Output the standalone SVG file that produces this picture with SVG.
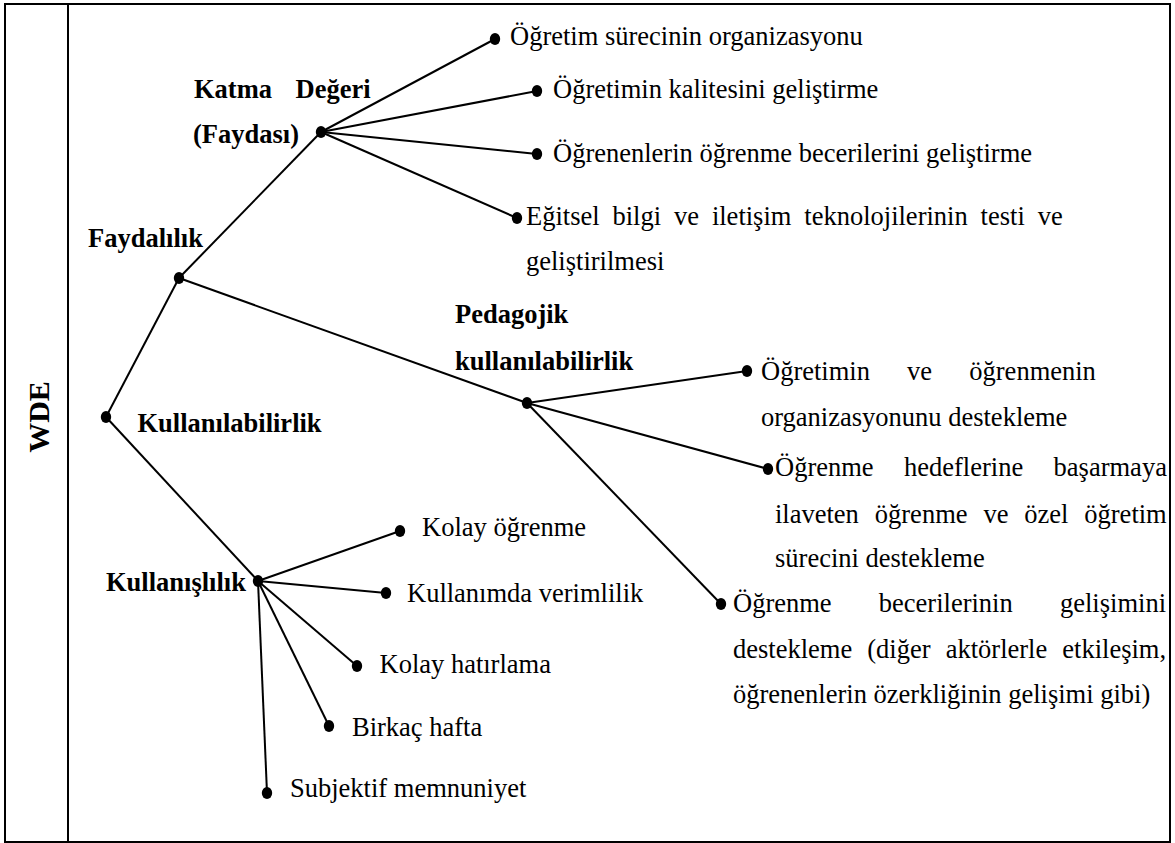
<svg xmlns="http://www.w3.org/2000/svg" width="1175" height="843" viewBox="0 0 1175 843">
<style>
text{font-family:"Liberation Serif","Times New Roman",serif;font-size:26.5px;fill:#000}
.b{font-weight:bold}
.ln{stroke:#000;stroke-width:2;fill:none}
.dot{fill:#000}
.frame{stroke:#000;stroke-width:2;fill:none}
</style>
<defs>
<ellipse id="d" cx="0" cy="0" rx="5.2" ry="6"/>
</defs>
<rect width="1175" height="843" fill="#fff"/>
<g id="frame">
<rect class="frame" x="5" y="4" width="1165" height="838"/>
<line class="frame" x1="68" y1="4" x2="68" y2="842"/>
</g>
<g id="connectors">
<line class="ln" x1="106" y1="417" x2="179" y2="278"/>
<line class="ln" x1="106" y1="417" x2="258" y2="581"/>
<line class="ln" x1="179" y1="278" x2="321" y2="132"/>
<line class="ln" x1="179" y1="278" x2="527" y2="403"/>
<line class="ln" x1="321" y1="132" x2="495" y2="39"/>
<line class="ln" x1="321" y1="132" x2="537" y2="91"/>
<line class="ln" x1="321" y1="132" x2="537" y2="154"/>
<line class="ln" x1="321" y1="132" x2="517" y2="218"/>
<line class="ln" x1="527" y1="403" x2="747" y2="371"/>
<line class="ln" x1="527" y1="403" x2="768" y2="469"/>
<line class="ln" x1="527" y1="403" x2="721" y2="604"/>
<line class="ln" x1="258" y1="581" x2="400" y2="531"/>
<line class="ln" x1="258" y1="581" x2="386" y2="593"/>
<line class="ln" x1="258" y1="581" x2="357" y2="666"/>
<line class="ln" x1="258" y1="581" x2="329" y2="726"/>
<line class="ln" x1="258" y1="581" x2="267" y2="793"/>
</g>
<g id="wde">
<text class="b" style="font-size:30px" text-anchor="middle" transform="translate(49,417) rotate(-90)">WDE</text>
<use href="#d" class="dot" x="106" y="417"/>
</g>
<g id="faydalilik">
<use href="#d" class="dot" x="179" y="278"/>
<text class="b" x="88" y="247">Faydalılık</text>
</g>
<g id="katma-degeri">
<use href="#d" class="dot" x="321" y="132"/>
<text class="b" y="98"><tspan x="194">Katma</tspan><tspan x="295.5">Değeri</tspan></text>
<text class="b" x="193" y="143">(Faydası)</text>
</g>
<g id="leaf-ogretim-sureci">
<use href="#d" class="dot" x="495" y="39"/>
<text x="510" y="45">Öğretim sürecinin organizasyonu</text>
</g>
<g id="leaf-kalite">
<use href="#d" class="dot" x="537" y="91"/>
<text x="553" y="98">Öğretimin kalitesini geliştirme</text>
</g>
<g id="leaf-beceri">
<use href="#d" class="dot" x="537" y="154"/>
<text x="553" y="162">Öğrenenlerin öğrenme becerilerini geliştirme</text>
</g>
<g id="leaf-egitsel">
<use href="#d" class="dot" x="517" y="218"/>
<text y="225"><tspan x="526">Eğitsel</tspan><tspan x="612.5">bilgi</tspan><tspan x="674">ve</tspan><tspan x="711.9">iletişim</tspan><tspan x="804.3">teknolojilerinin</tspan><tspan x="980.6">testi</tspan><tspan x="1037.7">ve</tspan></text>
<text x="526" y="270">geliştirilmesi</text>
</g>
<g id="kullanilabilirlik">
<text class="b" x="137.5" y="432">Kullanılabilirlik</text>
</g>
<g id="pedagojik">
<use href="#d" class="dot" x="527" y="403"/>
<text class="b" x="455" y="323">Pedagojik</text>
<text class="b" x="455" y="370">kullanılabilirlik</text>
</g>
<g id="leaf-organizasyon">
<use href="#d" class="dot" x="747" y="371"/>
<text y="380"><tspan x="761">Öğretimin</tspan><tspan x="907.1">ve</tspan><tspan x="969.3">öğrenmenin</tspan></text>
<text x="761" y="426">organizasyonunu destekleme</text>
</g>
<g id="leaf-hedef">
<use href="#d" class="dot" x="768" y="469"/>
<text y="476"><tspan x="775">Öğrenme</tspan><tspan x="904">hedeflerine</tspan><tspan x="1053.6">başarmaya</tspan></text>
<text y="523"><tspan x="775">ilaveten</tspan><tspan x="874.8">öğrenme</tspan><tspan x="983.4">ve</tspan><tspan x="1024.3">özel</tspan><tspan x="1084.3">öğretim</tspan></text>
<text x="775" y="567">sürecini destekleme</text>
</g>
<g id="leaf-gelisim">
<use href="#d" class="dot" x="721" y="604"/>
<text y="612"><tspan x="733">Öğrenme</tspan><tspan x="878.8">becerilerinin</tspan><tspan x="1060">gelişimini</tspan></text>
<text y="658"><tspan x="733">destekleme</tspan><tspan x="867.3">(diğer</tspan><tspan x="945.7">aktörlerle</tspan><tspan x="1062.3">etkileşim,</tspan></text>
<text x="733" y="703">öğrenenlerin özerkliğinin gelişimi gibi)</text>
</g>
<g id="kullanislilik">
<use href="#d" class="dot" x="258" y="581"/>
<text class="b" x="106" y="591">Kullanışlılık</text>
</g>
<g id="leaf-kolay-ogrenme">
<use href="#d" class="dot" x="400" y="531"/>
<text x="422" y="536">Kolay öğrenme</text>
</g>
<g id="leaf-verimlilik">
<use href="#d" class="dot" x="386" y="593"/>
<text x="407" y="602">Kullanımda verimlilik</text>
</g>
<g id="leaf-hatirlama">
<use href="#d" class="dot" x="357" y="666"/>
<text x="379.5" y="673">Kolay hatırlama</text>
</g>
<g id="leaf-birkac-hafta">
<use href="#d" class="dot" x="329" y="726"/>
<text x="352" y="736">Birkaç hafta</text>
</g>
<g id="leaf-memnuniyet">
<use href="#d" class="dot" x="267" y="793"/>
<text x="290" y="797">Subjektif memnuniyet</text>
</g>
</svg>
